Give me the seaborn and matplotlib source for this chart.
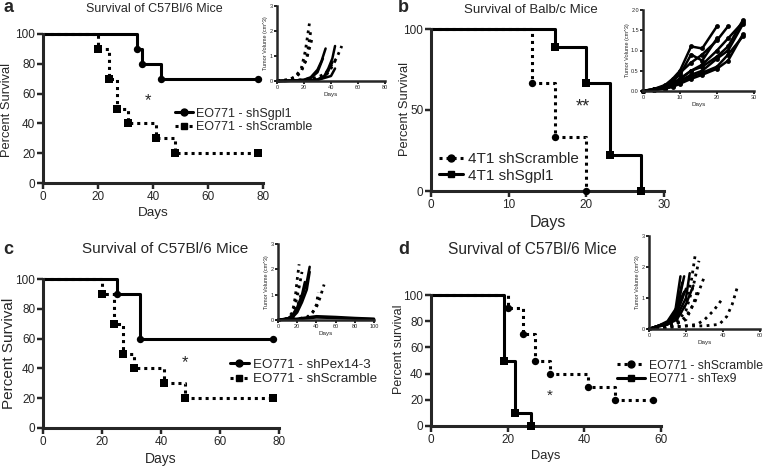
import matplotlib
matplotlib.use("Agg")
import matplotlib.pyplot as plt
from matplotlib.lines import Line2D
import seaborn as sns
import pandas as pd

# ---- survival data (event times / percent survival) ----
a_sgpl1_t = [0, 34, 36, 43, 78]
a_sgpl1_s = [100, 90, 80, 70, 70]
a_scr_t = [0, 20, 24, 27, 31, 41, 48, 78]
a_scr_s = [100, 90, 70, 50, 40, 30, 20, 20]

b_scr_t = [0, 13, 16, 20]
b_scr_s = [100, 66.7, 33.3, 0]
b_sgpl1_t = [0, 16, 20, 23, 27]
b_sgpl1_s = [100, 88.9, 66.7, 22.2, 0]

c_pex_t = [0, 25, 33, 78]
c_pex_s = [100, 90, 60, 60]
c_scr_t = [0, 20, 24, 27, 31, 41, 48, 78]
c_scr_s = [100, 90, 70, 50, 40, 30, 20, 20]

d_scr_t = [0, 20, 24, 27, 31, 41, 48, 58]
d_scr_s = [100, 90, 70, 50, 40, 30, 20, 20]
d_tex_t = [0, 19, 22, 26]
d_tex_s = [100, 50, 10, 0]

# ---- tumour growth insets ----
ina_scr_days = [[0, 6, 10, 14, 18, 21, 24], [0, 6, 10, 14, 18, 22, 26],
                [0, 8, 14, 18, 22, 25], [0, 10, 20, 30, 36, 40, 44, 48],
                [0, 10, 20, 30, 36, 40, 44]]
ina_scr_vol = [[0, 0.03, 0.08, 0.2, 0.5, 1.2, 2.3], [0, 0.02, 0.06, 0.15, 0.4, 0.9, 1.7],
               [0, 0.05, 0.15, 0.4, 0.9, 2.0], [0, 0.02, 0.05, 0.15, 0.3, 0.6, 0.9, 1.4],
               [0, 0.02, 0.04, 0.1, 0.2, 0.5, 0.9]]
ina_sh_days = [[0, 10, 20, 25, 30, 33, 36], [0, 10, 20, 25, 30, 34],
               [0, 10, 20, 30, 35, 38, 41, 43], [0, 10, 20, 30, 35, 38, 41],
               [0, 10, 20, 30, 40, 43]]
ina_sh_vol = [[0, 0.01, 0.05, 0.15, 0.45, 0.8, 1.3], [0, 0.01, 0.04, 0.12, 0.35, 0.9],
              [0, 0.01, 0.02, 0.06, 0.2, 0.5, 0.9, 1.4], [0, 0.01, 0.02, 0.05, 0.15, 0.4, 0.75],
              [0, 0.01, 0.02, 0.04, 0.2, 0.5]]

inb_days = [[0, 3, 6, 8, 10, 13, 16, 20], [0, 3, 6, 8, 10, 13, 16, 20, 23],
            [0, 3, 6, 8, 10, 13, 16, 20, 23, 27], [0, 3, 6, 8, 10, 13, 16, 20, 23, 27],
            [0, 3, 6, 8, 10, 13, 16, 20, 23, 27], [0, 3, 6, 8, 10, 13, 16, 20],
            [0, 3, 6, 8, 10, 13, 16, 20, 23, 27], [0, 3, 6, 8, 10, 13, 16, 20, 23, 27]]
inb_vol = [[0, 0.05, 0.15, 0.3, 0.5, 1.1, 1.05, 1.6], [0, 0.05, 0.12, 0.25, 0.45, 0.7, 0.9, 1.25, 1.6],
           [0, 0.04, 0.1, 0.2, 0.3, 0.5, 0.6, 0.85, 1.1, 1.75], [0, 0.03, 0.08, 0.15, 0.25, 0.4, 0.5, 0.8, 1.0, 1.65],
           [0, 0.03, 0.07, 0.12, 0.2, 0.35, 0.45, 0.6, 0.9, 1.35], [0, 0.04, 0.12, 0.25, 0.4, 0.9, 0.75, 1.3],
           [0, 0.02, 0.06, 0.1, 0.18, 0.3, 0.4, 0.55, 0.75, 1.4], [0, 0.03, 0.09, 0.18, 0.3, 0.5, 0.65, 1.0, 1.3, 1.7]]

inc_sh_days = [[0, 10, 15, 20, 25, 30, 33], [0, 10, 15, 20, 25, 30, 33], [0, 10, 15, 20, 25, 28],
               [0, 20, 40, 60, 80, 100], [0, 20, 40, 60, 80, 100], [0, 15, 20, 25]]
inc_sh_vol = [[0, 0.05, 0.15, 0.4, 0.9, 1.5, 2.1], [0, 0.04, 0.1, 0.3, 0.7, 1.2, 1.9],
              [0, 0.05, 0.2, 0.5, 1.0, 1.5], [0, 0.05, 0.15, 0.12, 0.08, 0.05],
              [0, 0.03, 0.1, 0.08, 0.05, 0.03], [0, 0.1, 0.4, 0.8]]
inc_scr_days = [[0, 10, 15, 18, 20, 22], [0, 10, 15, 18, 22, 25], [0, 10, 15, 20, 24],
                [0, 20, 30, 35, 40, 44, 48], [0, 20, 30, 36, 40, 42]]
inc_scr_vol = [[0, 0.05, 0.3, 0.9, 1.6, 2.2], [0, 0.05, 0.2, 0.6, 1.3, 1.9], [0, 0.03, 0.1, 0.5, 1.0],
               [0, 0.05, 0.1, 0.25, 0.5, 0.9, 1.4], [0, 0.04, 0.1, 0.3, 0.6, 1.1]]

ind_tex_days = [[0, 5, 10, 14, 17], [0, 5, 10, 14, 18], [0, 5, 10, 15, 19], [0, 5, 10, 15, 20],
                [0, 5, 10, 15, 20, 22], [0, 5, 10, 15, 20, 24], [0, 5, 10, 15, 19], [0, 5, 10, 15, 18]]
ind_tex_vol = [[0, 0.1, 0.2, 0.5, 1.7], [0, 0.1, 0.15, 0.4, 1.5], [0, 0.1, 0.2, 0.6, 1.7], [0, 0.1, 0.2, 0.5, 1.3],
               [0, 0.08, 0.15, 0.4, 1.0, 1.8], [0, 0.08, 0.15, 0.3, 0.8, 1.4], [0, 0.1, 0.25, 0.7, 1.2],
               [0, 0.1, 0.2, 0.6, 1.0]]
ind_scr_days = [[0, 10, 15, 20, 23, 25], [0, 10, 15, 20, 24, 27], [0, 10, 15, 20, 25, 30],
                [0, 10, 20, 26, 30, 35, 40], [0, 10, 20, 30, 38, 42, 45, 48], [0, 10, 20, 24, 26]]
ind_scr_vol = [[0, 0.1, 0.3, 0.8, 1.6, 2.4], [0, 0.08, 0.2, 0.6, 1.4, 2.2], [0, 0.05, 0.15, 0.4, 0.9, 1.7],
               [0, 0.05, 0.1, 0.15, 0.3, 0.6, 1.0], [0, 0.05, 0.1, 0.1, 0.15, 0.4, 0.8, 1.4],
               [0, 0.1, 0.3, 0.8, 1.2]]

sns.set_style("ticks")
plt.rcParams['font.family'] = ['Liberation Sans', 'DejaVu Sans']

W, H = 764, 466
fig = plt.figure(figsize=(W / 100, H / 100), dpi=100)

DOT = (0, (1, 1.3))


def px_axes(left, right, top, bottom):
    return fig.add_axes([left / W, 1 - bottom / H, (right - left) / W, (bottom - top) / H])


def style_axes(ax, lw, tsize, tlen):
    sns.despine(ax=ax)
    for sp in ['left', 'bottom']:
        ax.spines[sp].set_linewidth(lw)
    ax.tick_params(width=lw * 0.8, length=tlen, labelsize=tsize, pad=1.5, direction='out')


def km(ax, t, s, dotted, marker):
    sns.lineplot(x=t, y=s, ax=ax, drawstyle='steps-post', color='black', lw=2.2,
                 linestyle=DOT if dotted else '-', estimator=None, sort=False, clip_on=False)
    sns.scatterplot(x=t[1:], y=s[1:], ax=ax, marker=marker, s=28, color='black',
                    linewidth=0, clip_on=False, zorder=5)


def handle(dotted, marker):
    return Line2D([], [], color='black', lw=2.2, linestyle=DOT if dotted else '-',
                  marker=marker, markersize=5)


def main_panel(box, xmax, xticks, yticks, title, tsize, ylab, ysize, ypos, xsize, letter, lpos):
    ax = px_axes(*box)
    ax.set_xlim(0, xmax)
    ax.set_ylim(0, 100)
    ax.set_xticks(xticks)
    ax.set_yticks(yticks)
    style_axes(ax, 2.2, 8.5, 4)
    ax.set_xlabel('Days', fontsize=xsize, labelpad=3)
    ax.set_ylabel(ylab, fontsize=ysize)
    left, right, top, bottom = box
    ax.yaxis.set_label_coords((ypos[0] - left) / (right - left), (bottom - ypos[1]) / (bottom - top))
    ax.yaxis.label.set_verticalalignment('center')
    fig.text(title[1] / W, 1 - title[2] / H, title[0], fontsize=tsize, ha='center', va='center')
    fig.text(lpos[0] / W, 1 - lpos[1] / H, letter, fontsize=13, fontweight='bold',
             ha='left', va='center')
    return ax


def long_df(days, vols):
    rows = []
    for i, (dd, vv) in enumerate(zip(days, vols)):
        for d, v in zip(dd, vv):
            rows.append((i, d, v))
    return pd.DataFrame(rows, columns=['mouse', 'day', 'vol'])


def inset(box, xmax, xticks, ymax, yticks, yfmt):
    ax = px_axes(*box)
    ax.set_xlim(0, xmax)
    ax.set_ylim(0, ymax)
    ax.set_xticks(xticks)
    ax.set_yticks(yticks)
    ax.set_yticklabels([yfmt.format(v) for v in yticks])
    style_axes(ax, 1.8, 4, 2)
    ax.tick_params(pad=1)
    ax.set_xlabel('Days', fontsize=4.5, labelpad=1)
    ax.set_ylabel('Tumor Volume (cm^3)', fontsize=4, labelpad=1)
    return ax


def growth(ax, days, vols, dotted, marker=None):
    df = long_df(days, vols)
    sns.lineplot(data=df, x='day', y='vol', units='mouse', estimator=None, ax=ax,
                 color='black', lw=2.0 if dotted else 1.8,
                 linestyle=(0, (1, 1.6)) if dotted else '-',
                 marker=marker, markersize=3.5, markeredgewidth=0, clip_on=False)


def legend(ax, handles, labels, x, y, size, hlen):
    ax.legend(handles, labels, loc='center left', bbox_to_anchor=(x / W, 1 - y / H),
              bbox_transform=fig.transFigure, frameon=False, fontsize=size,
              handlelength=hlen, handletextpad=0.3, labelspacing=0.15,
              borderpad=0, borderaxespad=0)


# ---- panel a ----
ax = main_panel((43, 263, 34, 183), 80, [0, 20, 40, 60, 80], [0, 20, 40, 60, 80, 100],
                ('Survival of C57Bl/6 Mice', 154, 9), 9, 'Percent Survival', 9.3, (7, 110),
                9.7, 'a', (3, 8))
km(ax, a_sgpl1_t, a_sgpl1_s, False, 'o')
km(ax, a_scr_t, a_scr_s, True, 's')
ax.text(38, 55, '*', fontsize=12, ha='center', va='center')
legend(ax, [handle(False, 'o'), handle(True, 's')], ['EO771 - shSgpl1', 'EO771 - shScramble'],
       175, 120.5, 9, 1.4)
ia = inset((277, 385, 6, 81), 80, [0, 20, 40, 60, 80], 3, [0, 1, 2, 3], '{:.0f}')
growth(ia, ina_sh_days, ina_sh_vol, False)
growth(ia, ina_scr_days, ina_scr_vol, True)

# ---- panel b ----
ax = main_panel((431, 664, 29, 191), 30, [0, 10, 20, 30], [0, 50, 100],
                ('Survival of Balb/c Mice', 531, 10), 9.5, 'Percent Survival', 9.3, (405, 108.5),
                11.5, 'b', (398, 8))
km(ax, b_scr_t, b_scr_s, True, 'o')
km(ax, b_sgpl1_t, b_sgpl1_s, False, 's')
ax.text(19.5, 52, '**', fontsize=13, ha='center', va='center')
legend(ax, [handle(True, 'o'), handle(False, 's')], ['4T1 shScramble', '4T1 shSgpl1'],
       439, 167.5, 11, 1.6)
ib = inset((643, 754, 10, 91), 30, [0, 10, 20, 30], 2, [0, 0.5, 1.0, 1.5, 2.0], '{:.1f}')
growth(ib, inb_days, inb_vol, False, marker='o')

# ---- panel c ----
ax = main_panel((43, 279, 279, 428), 80, [0, 20, 40, 60, 80], [0, 20, 40, 60, 80, 100],
                ('Survival of C57Bl/6 Mice', 165, 249), 11, 'Percent Survival', 11, (9, 353),
                10, 'c', (3, 249))
km(ax, c_pex_t, c_pex_s, False, 'o')
km(ax, c_scr_t, c_scr_s, True, 's')
ax.text(48, 44, '*', fontsize=12, ha='center', va='center')
legend(ax, [handle(False, 'o'), handle(True, 's')], ['EO771 - shPex14-3', 'EO771 - shScramble'],
       230, 372, 9.6, 1.4)
ic = inset((278, 374, 244, 320), 100, [0, 20, 40, 60, 80, 100], 3, [0, 1, 2, 3], '{:.0f}')
growth(ic, inc_sh_days, inc_sh_vol, False)
growth(ic, inc_scr_days, inc_scr_vol, True)

# ---- panel d ----
ax = main_panel((431, 661, 295, 426), 60, [0, 20, 40, 60], [0, 20, 40, 60, 80, 100],
                ('Survival of C57Bl/6 Mice', 532, 249), 11.2, 'Percent survival', 9, (399, 349),
                9.3, 'd', (398, 249))
km(ax, d_scr_t, d_scr_s, True, 'o')
km(ax, d_tex_t, d_tex_s, False, 's')
ax.text(31, 23, '*', fontsize=11, ha='center', va='center')
legend(ax, [handle(True, 'o'), handle(False, 's')], ['EO771 - shScramble', 'EO771 - shTex9'],
       617, 372.5, 8.8, 2.3)
idd = inset((649, 760, 236, 329), 60, [0, 20, 40, 60], 3, [0, 1, 2, 3], '{:.0f}')
growth(idd, ind_tex_days, ind_tex_vol, False)
growth(idd, ind_scr_days, ind_scr_vol, True)

fig.savefig('out.png', dpi=100)
